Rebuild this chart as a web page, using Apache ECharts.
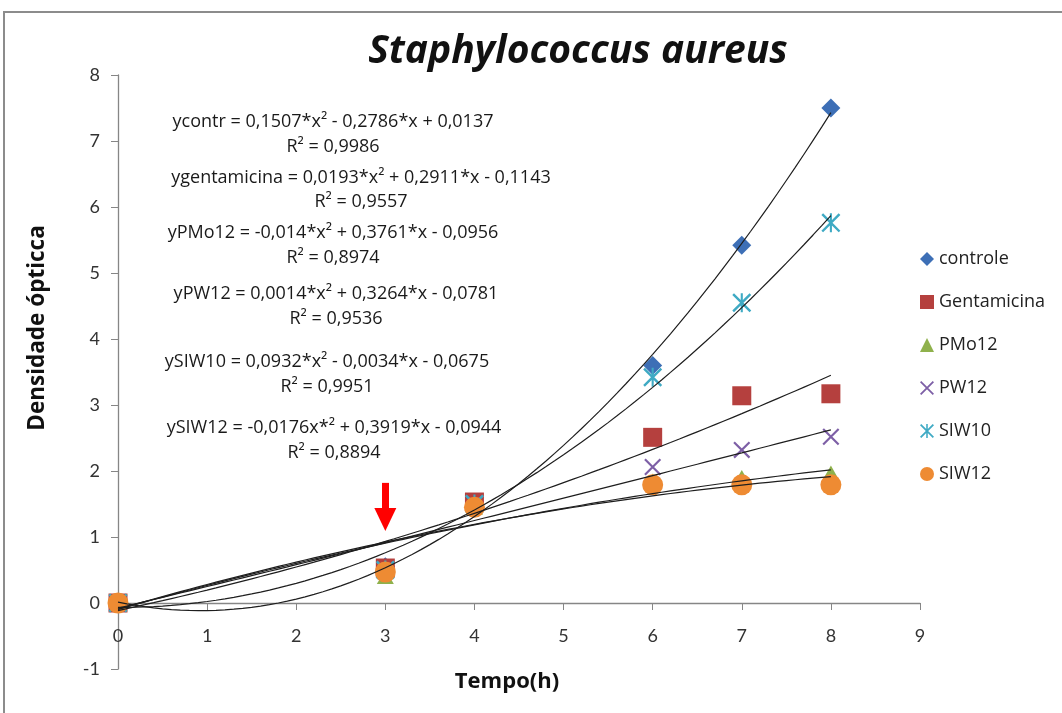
<!DOCTYPE html>
<html>
<head>
<meta charset="utf-8">
<script src="https://cdn.jsdelivr.net/npm/echarts@6/dist/echarts.min.js"></script>
<style>
html,body{margin:0;padding:0;background:#fff;}
#chart{width:1062px;height:713px;}
</style>
</head>
<body>
<div id="chart"></div>
<script>
// ---- data ----
const times = [0, 3, 4, 6, 7, 8];
const controle    = [0, 0.55, 1.52, 3.60, 5.42, 7.50];
const gentamicina = [0, 0.53, 1.53, 2.51, 3.14, 3.17];
const pmo12       = [0, 0.40, 1.45, 1.85, 1.90, 1.97];
const pw12        = [0, 0.50, 1.50, 2.06, 2.32, 2.52];
const siw10       = [0, 0.50, 1.50, 3.42, 4.55, 5.76];
const siw12       = [0, 0.47, 1.45, 1.79, 1.79, 1.79];

// quadratic trendline coefficients as printed in the chart [a, b, c] for a*x^2 + b*x + c
const coefControle    = [0.1507, -0.2786, 0.0137];
const coefGentamicina = [0.0193, 0.2911, -0.1143];
const coefPMo12       = [-0.014, 0.3761, -0.0956];
const coefPW12        = [0.0014, 0.3264, -0.0781];
const coefSIW10       = [0.0932, -0.0034, -0.0675];
const coefSIW12       = [-0.0176, 0.3919, -0.0944];

const seriesNames = ['controle', 'Gentamicina', 'PMo12', 'PW12', 'SIW10', 'SIW12'];
const eqLines = [
  'ycontr = 0,1507*x² - 0,2786*x + 0,0137', 'R² = 0,9986',
  'ygentamicina = 0,0193*x² + 0,2911*x - 0,1143', 'R² = 0,9557',
  'yPMo12 = -0,014*x² + 0,3761*x - 0,0956', 'R² = 0,8974',
  'yPW12 = 0,0014*x² + 0,3264*x - 0,0781', 'R² = 0,9536',
  'ySIW10 = 0,0932*x² - 0,0034*x - 0,0675', 'R² = 0,9951',
  'ySIW12 = -0,0176x*² + 0,3919*x - 0,0944', 'R² = 0,8894'
];
const arrowFrom = [3, 1.82];
const arrowTo = [3, 1.265];

// ---- styles ----
const colors = ['#3D6FB6', '#B5403E', '#8FB14C', '#7D5FA6', '#3FAAC4', '#EE8B33'];
const xPath = 'path://M0,0.9L0.9,0L10,9.1L9.1,10Z M9.1,0L10,0.9L0.9,10L0,9.1Z';
const starPath = 'path://M0,0.9L0.9,0L10,9.1L9.1,10Z M9.1,0L10,0.9L0.9,10L0,9.1Z M4.45,0L5.55,0L5.55,10L4.45,10Z';
const symbols = ['diamond', 'rect', 'triangle', xPath, starPath, 'circle'];
const symbolSizes = [[19, 19], 19, [17, 15], 17, 19, 21];

const dataSets = [controle, gentamicina, pmo12, pw12, siw10, siw12];
const coefs = [coefControle, coefGentamicina, coefPMo12, coefPW12, coefSIW10, coefSIW12];

const series = [];
dataSets.forEach((vals, i) => {
  const s = {
    name: seriesNames[i],
    type: 'scatter',
    symbol: symbols[i],
    symbolSize: symbolSizes[i],
    itemStyle: { color: colors[i], opacity: 1 },
    data: times.map((t, j) => [t, vals[j]]),
    z: 2
  };
  if (i === 0) {
    s.markLine = {
      silent: true,
      symbol: ['none', 'triangle'],
      symbolSize: [22, 23],
      label: { show: false },
      lineStyle: { color: '#FF0000', width: 7, type: 'solid', opacity: 1 },
      emphasis: { disabled: true },
      data: [[{ coord: arrowFrom }, { coord: arrowTo }]],
      z: 5
    };
  }
  series.push(s);
});
// trendlines, evaluated from the printed coefficients across the data range
coefs.forEach((c, i) => {
  const pts = [];
  const t0 = times[0], t1 = times[times.length - 1];
  for (let k = 0; k <= 80; k++) {
    const x = t0 + (t1 - t0) * k / 80;
    pts.push([x, c[0] * x * x + c[1] * x + c[2]]);
  }
  series.push({
    name: 'fit ' + seriesNames[i],
    type: 'line',
    data: pts,
    showSymbol: false,
    symbol: 'none',
    lineStyle: { color: '#1e1e1e', width: 1.2 },
    silent: true,
    z: 3
  });
});

// equation text graphics
const eqCenters = [[333, 122], [333, 147], [361, 178], [361, 202], [333, 233], [333, 258],
                   [336, 294], [336, 319], [327, 362], [327, 387], [334, 428], [334, 453]];
const graphics = eqLines.map((t, i) => ({
  type: 'text',
  x: eqCenters[i][0], y: eqCenters[i][1],
  style: { text: t, font: '18px "Open Sans"', fill: '#1a1a1a', textAlign: 'center', textVerticalAlign: 'middle', align: 'center', verticalAlign: 'middle' },
  z: 10
}));
graphics.push({
  type: 'rect', shape: { x: 4, y: 12, width: 1200, height: 900 },
  style: { fill: 'none', stroke: '#8c8c8c', lineWidth: 2 }, z: 0, silent: true
});
graphics.push({
  type: 'text', x: 38, y: 328, rotation: Math.PI / 2,
  style: { text: 'Densidade ópticca', font: 'bold 22.5px "Open Sans"', fill: '#111', textAlign: 'center', textVerticalAlign: 'middle', align: 'center', verticalAlign: 'middle' }
});
graphics.push({
  type: 'text', x: 507, y: 682,
  style: { text: 'Tempo(h)', font: 'bold 22px "Open Sans"', fill: '#111', textAlign: 'center', textVerticalAlign: 'middle', align: 'center', verticalAlign: 'middle' }
});

const chart = echarts.init(document.getElementById('chart'));
chart.setOption({
  animation: false,
  backgroundColor: '#fff',
  title: {
    text: 'Staphylococcus aureus',
    left: 573, top: 27, textAlign: 'center',
    textStyle: { fontFamily: 'Open Sans', fontStyle: 'italic', fontWeight: 'bold', fontSize: 39, color: '#111' }
  },
  legend: {
    data: seriesNames,
    orient: 'vertical',
    left: 915, top: 245,
    itemWidth: 14, itemHeight: 14, itemGap: 25,
    textStyle: { fontFamily: 'Open Sans', fontSize: 18, color: '#222' },
    selectedMode: false
  },
  grid: { left: 118, top: 75, width: 802, height: 594, containLabel: false },
  xAxis: {
    type: 'value', min: 0, max: 9, interval: 1,
    offset: -66,
    axisLine: { onZero: false, lineStyle: { color: '#868686', width: 1.3 } },
    axisTick: { show: true, length: 7, lineStyle: { color: '#868686' } },
    axisLabel: { fontFamily: 'Lato', fontSize: 18, color: '#333', margin: 24 },
    splitLine: { show: false }
  },
  yAxis: {
    type: 'value', min: -1, max: 8, interval: 1,
    axisLine: { show: true, lineStyle: { color: '#868686', width: 1.3 } },
    axisTick: { show: true, length: 7, lineStyle: { color: '#868686' } },
    axisLabel: { fontFamily: 'Lato', fontSize: 18, color: '#333', margin: 18 },
    splitLine: { show: false }
  },
  graphic: graphics,
  series: series
});
</script>
</body>
</html>
